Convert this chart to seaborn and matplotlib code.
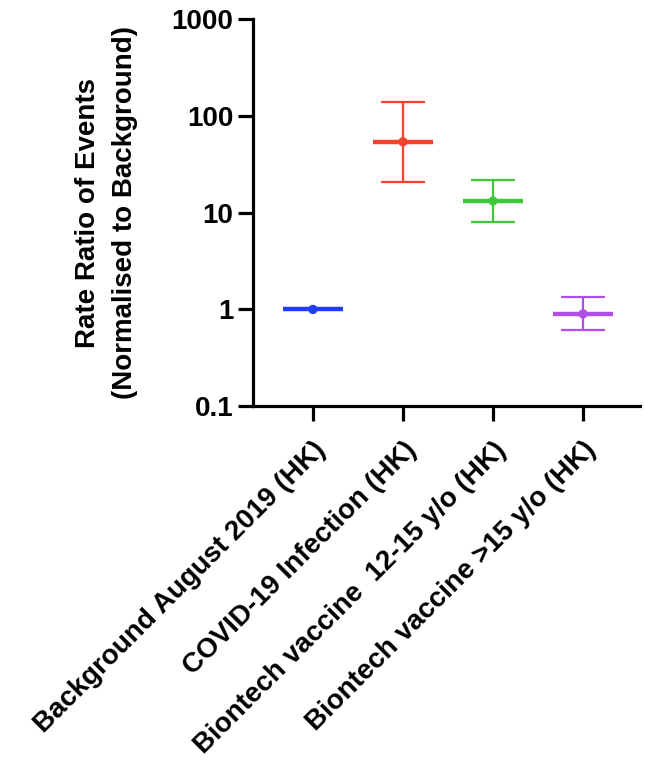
import numpy as np
import pandas as pd
import seaborn as sns
import matplotlib
matplotlib.use('Agg')
import matplotlib.pyplot as plt

# data
groups = ['Background August 2019 (HK)', 'COVID-19 Infection (HK)',
          'Biontech vaccine  12-15 y/o (HK)', 'Biontech vaccine >15 y/o (HK)']
rate_ratio = [1.0, 54.0, 13.2, 0.90]
ci_low = [1.0, 20.7, 8.1, 0.61]
ci_high = [1.0, 139.0, 21.5, 1.34]
colors = ['#1f3cff', '#f2422b', '#3dc93a', '#b04ee6']

df = pd.DataFrame({'group': groups, 'rr': rate_ratio, 'lo': ci_low, 'hi': ci_high})

sns.set_style('ticks')
plt.rcParams['font.family'] = ['Liberation Sans', 'DejaVu Sans']
plt.rcParams['text.color'] = 'black'
plt.rcParams['axes.labelcolor'] = 'black'
plt.rcParams['xtick.color'] = 'black'
plt.rcParams['ytick.color'] = 'black'

fig = plt.figure(figsize=(6.45, 7.65), dpi=100)
ax = fig.add_axes([0.392, 0.469, 0.6, 0.506])

sns.scatterplot(data=df, x='group', y='rr', hue='group', palette=colors,
                s=45, edgecolor='none', legend=False, zorder=4, ax=ax)

pos = np.arange(len(df))
for i, row in df.iterrows():
    c = colors[i]
    ax.hlines(row['rr'], pos[i] - 0.33, pos[i] + 0.33, color=c, lw=3.2, zorder=3)
    if row['hi'] > row['lo']:
        ax.errorbar(pos[i], row['rr'],
                    yerr=[[row['rr'] - row['lo']], [row['hi'] - row['rr']]],
                    fmt='none', ecolor=c, elinewidth=1.6, capsize=16, capthick=1.6, zorder=2)

ax.set_yscale('log')
ax.set_ylim(0.1, 1000)
ax.set_xlim(-0.667, 3.63)
ax.set_yticks([0.1, 1, 10, 100, 1000])
ax.set_yticklabels(['0.1', '1', '10', '100', '1000'])
ax.yaxis.set_minor_locator(matplotlib.ticker.NullLocator())

for s in ['top', 'right']:
    ax.spines[s].set_visible(False)
for s in ['left', 'bottom']:
    ax.spines[s].set_linewidth(2.3)
    ax.spines[s].set_color('black')

ax.tick_params(axis='both', width=2.3, length=11, color='black')
ax.tick_params(axis='y', labelsize=20, pad=3)
ax.tick_params(axis='x', pad=11)
for t in ax.get_yticklabels():
    t.set_fontweight('bold')

ax.set_xticks(pos)
ax.set_xticklabels(groups, rotation=45, ha='right', rotation_mode='anchor',
                   fontsize=20, fontweight='bold')
ax.set_xlabel('')
ax.set_ylabel('Rate Ratio of Events\n(Normalised to Background)',
              fontsize=20, fontweight='bold', labelpad=24, linespacing=1.55)

fig.savefig('out.png', dpi=100)
